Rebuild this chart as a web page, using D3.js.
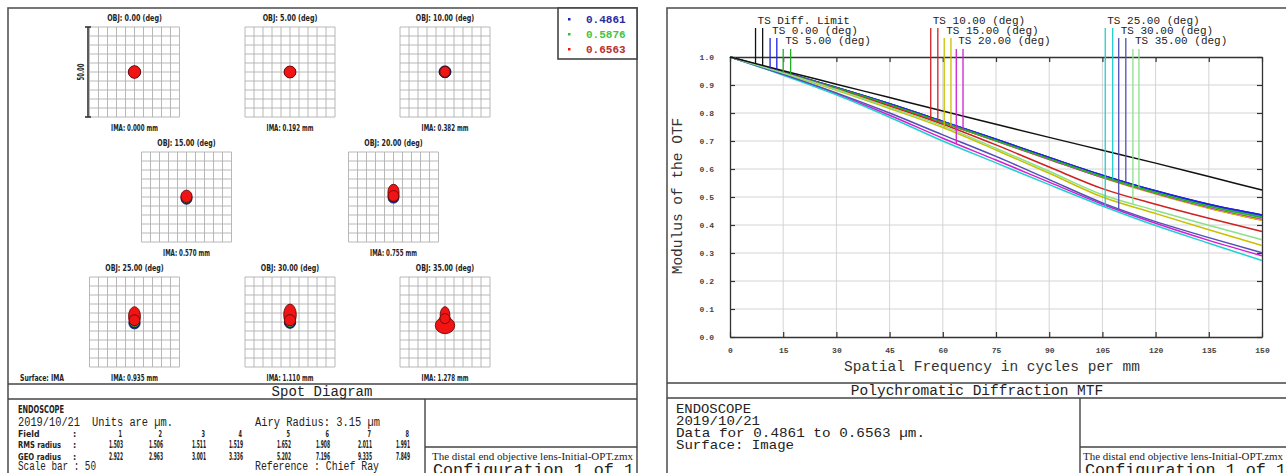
<!DOCTYPE html>
<html>
<head>
<meta charset="utf-8">
<title>Spot Diagram and MTF</title>
<script src="https://cdn.jsdelivr.net/npm/d3@7/dist/d3.min.js"></script>
<style>
  body { margin: 0; background: #fff; }
  svg { display: block; }
</style>
</head>
<body>
<svg id="svg"></svg>
<script>
var WIDTH = 1286, HEIGHT = 473;
var MONO = "'Liberation Mono','DejaVu Sans Mono',monospace";
var NARROW = "'Liberation Sans Narrow','DejaVu Sans Condensed','Liberation Sans',sans-serif";
var SERIF = "'Liberation Serif','DejaVu Serif',serif";

// ---------- data: spot diagram ----------
var fieldDeg = ["0.00", "5.00", "10.00", "15.00", "20.00", "25.00", "30.00", "35.00"];
var imaHeight = ["0.000", "0.192", "0.382", "0.570", "0.755", "0.935", "1.110", "1.278"];
var rmsRadius = ["1.503", "1.506", "1.511", "1.519", "1.652", "1.908", "2.011", "1.991"];
var geoRadius = ["2.922", "2.963", "3.001", "3.336", "5.202", "7.196", "9.335", "7.849"];
var wavelengths = ["0.4861", "0.5876", "0.6563"];
var scaleBar = 50; // µm
// spot blobs, µm from chief ray: [field, wave, dx, dy, rx, ry]
var spotBlobs = [
  [0,0,0,0,3.2,3.2],[0,1,0,0,3.2,3.2],[0,2,0,0,3.4,3.5],
  [1,0,0,0,3.1,3.1],[1,1,0,0,3.1,3.1],[1,2,0,0,3.3,3.3],
  [2,0,0,0.1,3.3,3.3],[2,1,0,0,3.1,3.1],[2,2,0,0.1,2.8,3.0],
  [3,0,0,-1.0,3.0,3.0],[3,1,0,-0.4,3.0,3.1],[3,2,0,0.4,3.1,3.4],
  [4,0,0,-0.4,3.0,3.0],[4,1,0,0.9,3.0,3.5],[4,2,0,2.7,3.1,4.4],[4,2,0,0.6,3.0,3.0],
  [5,0,0,-0.7,3.1,3.1],[5,1,0,0.1,2.9,3.1],[5,2,0,3.2,3.3,5.3],[5,2,0,1.0,3.0,3.0],
  [6,0,0,-0.4,3.1,3.1],[6,1,0,0.3,3.0,3.3],[6,2,0,4.0,3.5,6.0],[6,2,0,1.0,3.1,3.1],
  [7,0,0,1.2,2.9,2.9],[7,1,0,1.4,2.9,3.1],[7,2,0,-1.9,5.4,4.6],[7,2,0,3.9,2.7,4.6],[7,2,0,1.9,2.8,2.8]
];

// ---------- data: MTF ----------
var freq = [0, 15, 30, 45, 60, 75, 90, 105, 120, 135, 150];
var diffLimit = [1.000,0.951,0.903,0.855,0.807,0.760,0.713,0.667,0.621,0.573,0.525];
var mtfTan = [
  [1,0.946,0.891,0.833,0.770,0.706,0.641,0.578,0.522,0.474,0.436],
  [1,0.945,0.889,0.830,0.767,0.702,0.637,0.573,0.516,0.467,0.427],
  [1,0.944,0.886,0.825,0.760,0.686,0.607,0.530,0.474,0.424,0.377],
  [1,0.942,0.881,0.816,0.748,0.668,0.585,0.500,0.441,0.383,0.327],
  [1,0.937,0.869,0.792,0.710,0.632,0.553,0.474,0.406,0.345,0.290],
  [1,0.935,0.865,0.785,0.700,0.622,0.544,0.468,0.398,0.335,0.273],
  [1,0.938,0.872,0.800,0.722,0.645,0.562,0.479,0.412,0.355,0.301],
  [1,0.943,0.884,0.820,0.754,0.674,0.592,0.508,0.452,0.399,0.347]
];
var mtfSag = [
  [1,0.946,0.891,0.833,0.770,0.706,0.641,0.578,0.522,0.474,0.436],
  [1,0.945,0.890,0.831,0.768,0.704,0.639,0.575,0.518,0.469,0.430],
  [1,0.945,0.889,0.830,0.766,0.701,0.635,0.570,0.512,0.461,0.418],
  [1,0.945,0.889,0.829,0.765,0.700,0.634,0.569,0.511,0.460,0.417],
  [1,0.945,0.889,0.830,0.766,0.701,0.635,0.570,0.513,0.463,0.422],
  [1,0.946,0.890,0.832,0.769,0.705,0.640,0.576,0.520,0.471,0.432],
  [1,0.946,0.891,0.833,0.770,0.706,0.641,0.577,0.521,0.472,0.434],
  [1,0.945,0.890,0.831,0.768,0.703,0.638,0.573,0.516,0.466,0.425]
];
// where the T / S label leaders touch the curves (cycles/mm); first pair is the diff. limit
var markerFreq = [[7.2,9.2],[11.3,13.2],[15.0,17.1],[56.6,58.6],[60.4,62.3],[63.8,65.7],[105.8,107.9],[109.6,111.6],[113.6,115.3]];
var xTicks = [0,15,30,45,60,75,90,105,120,135,150];
var yTicks = [0,0.1,0.2,0.3,0.4,0.5,0.6,0.7,0.8,0.9,1.0];

// ---------- styles ----------
var waveColor = ["#1a2ab8", "#34c034", "#f01414"];
var waveText = ["#2a2aa0", "#44c444", "#b83030"];
var fieldColor = ["#2020e0", "#20b020", "#d02020", "#c8c000", "#d020d0", "#20d0d0", "#5050b8", "#8ce08c"];

var svg = d3.select('#svg').attr('width', WIDTH).attr('height', HEIGHT);

function line(x1, y1, x2, y2, col, w) {
  return svg.append('line').attr('x1', x1).attr('y1', y1).attr('x2', x2).attr('y2', y2)
    .attr('stroke', col || '#444').attr('stroke-width', w || 1.4);
}
function txt(x, y, s, opt) {
  opt = opt || {};
  var t = svg.append('text').attr('x', x).attr('y', y).text(s)
    .attr('font-family', opt.font || MONO)
    .attr('font-size', (opt.size || 12) + 'px')
    .attr('fill', opt.fill || '#222')
    .attr('text-anchor', opt.anchor || 'start');
  if (opt.bold) t.attr('font-weight', 'bold');
  if (opt.len) t.attr('textLength', opt.len).attr('lengthAdjust', 'spacingAndGlyphs');
  return t;
}

// ================= LEFT PANEL: spot diagram =================
svg.append('rect').attr('x', 8).attr('y', 8).attr('width', 629).attr('height', 490)
   .attr('fill', 'none').attr('stroke', '#555').attr('stroke-width', 1.6);
line(8, 384, 637, 384, '#444', 1.4);
line(8, 399, 637, 399, '#444', 1.4);
line(425, 399, 425, 480, '#444', 1.4);
line(425, 447, 637, 447, '#444', 1.4);

// legend
svg.append('rect').attr('x', 558).attr('y', 8).attr('width', 79).attr('height', 51)
   .attr('fill', '#fff').attr('stroke', '#444').attr('stroke-width', 1.6);
wavelengths.forEach(function(w, i) {
  svg.append('rect').attr('x', 568).attr('y', 18 + i * 15).attr('width', 2.5).attr('height', 2.5)
     .attr('fill', waveColor[i]);
  txt(586, 23 + i * 15, w, {size: 11, bold: true, fill: waveText[i]});
});

var GRID = 90;
var gridCenters = [[134.5,72],[290,72],[445,72],[186.5,197],[393.5,197],[134.5,322],[290,322],[445,322]];
var um = d3.scaleLinear().domain([-scaleBar / 2, scaleBar / 2]).range([-GRID / 2, GRID / 2]);
var cellTicks = d3.range(0, 11).map(function(k) { return -scaleBar / 2 + k * scaleBar / 10; });

gridCenters.forEach(function(c, f) {
  var g = svg.append('g').attr('transform', 'translate(' + c[0] + ',' + c[1] + ')');
  g.selectAll('line.v').data(cellTicks).enter().append('line')
    .attr('x1', function(d) { return um(d); }).attr('x2', function(d) { return um(d); })
    .attr('y1', -GRID / 2).attr('y2', GRID / 2)
    .attr('stroke', '#b0b0b0').attr('stroke-width', 0.9);
  g.selectAll('line.h').data(cellTicks).enter().append('line')
    .attr('y1', function(d) { return um(d); }).attr('y2', function(d) { return um(d); })
    .attr('x1', -GRID / 2).attr('x2', GRID / 2)
    .attr('stroke', '#b0b0b0').attr('stroke-width', 0.9);

  g.selectAll('ellipse').data(spotBlobs.filter(function(b) { return b[0] === f; }))
    .enter().append('ellipse')
    .attr('cx', function(b) { return um(b[2]); })
    .attr('cy', function(b) { return -um(b[3]); })
    .attr('rx', function(b) { return um(b[4]) - um(0); })
    .attr('ry', function(b) { return um(b[5]) - um(0); })
    .attr('fill', function(b) { return waveColor[b[1]]; })
    .attr('stroke', function(b) { return b[1] === 2 ? '#6a0a0a' : '#101050'; })
    .attr('stroke-width', 0.9);

  var lab = 'OBJ: ' + fieldDeg[f] + ' (deg)';
  txt(c[0], c[1] - GRID / 2 - 6, lab, {font: NARROW, size: 9, bold: true, anchor: 'middle', len: lab.length * 3.65});
  var ima = 'IMA: ' + imaHeight[f] + ' mm';
  txt(c[0], c[1] + GRID / 2 + 14, ima, {font: NARROW, size: 9, bold: true, anchor: 'middle', len: ima.length * 3.6});
});

// scale bar
var sbX = gridCenters[0][0] - GRID / 2 - 1.5;
line(sbX, gridCenters[0][1] + um(-scaleBar / 2), sbX, gridCenters[0][1] + um(scaleBar / 2), '#333', 1.6);
line(sbX - 3, gridCenters[0][1] - GRID / 2, sbX + 3, gridCenters[0][1] - GRID / 2, '#333', 1.6);
line(sbX - 3, gridCenters[0][1] + GRID / 2, sbX + 3, gridCenters[0][1] + GRID / 2, '#333', 1.6);
txt(0, 0, scaleBar.toFixed(2), {font: NARROW, size: 9, bold: true, anchor: 'middle', len: 17})
  .attr('transform', 'translate(' + (sbX - 4) + ',' + gridCenters[0][1] + ') rotate(-90)');

txt(20, 381, 'Surface: IMA', {font: NARROW, size: 9, bold: true, len: 44});
txt(322, 396, 'Spot Diagram', {size: 14, anchor: 'middle'});

// info box
txt(18, 413, 'ENDOSCOPE', {font: NARROW, size: 11, bold: true, len: 46});
txt(18, 426, '2019/10/21', {size: 12.5, len: 62});
txt(92, 426, 'Units are \u00b5m.', {size: 12.5, len: 81});
txt(255, 426, 'Airy Radius: 3.15 \u00b5m', {size: 12.5, len: 125});
var rowLabels = ['Field', 'RMS radius', 'GEO radius'];
var rowBase = [437, 448, 460];
rowLabels.forEach(function(s, r) {
  txt(18, rowBase[r], s, {font: NARROW, size: 9, bold: true, len: s.length * 4.3});
  txt(73, rowBase[r], ':', {font: NARROW, size: 9, bold: true});
});
txt(18, 470, 'Scale bar  : ' + scaleBar, {size: 12, len: 78});
txt(255, 470, 'Reference  : Chief Ray', {size: 12, len: 124});
var colX = [116, 156, 199, 236, 284, 323, 365, 403];
colX.forEach(function(x, i) {
  txt(x + 6, 437, String(i + 1), {font: NARROW, size: 9.5, bold: true, anchor: 'end', len: 3.5});
  txt(x, 448, rmsRadius[i], {font: NARROW, size: 11, bold: true, anchor: 'middle', len: 14});
  txt(x, 460, geoRadius[i], {font: NARROW, size: 11, bold: true, anchor: 'middle', len: 14});
});
txt(432, 460, 'The distal end objective lens-Initial-OPT.zmx', {font: SERIF, size: 11, len: 201});
txt(433, 475, 'Configuration 1 of 1', {size: 17, len: 201});

// ================= RIGHT PANEL: MTF =================
svg.append('rect').attr('x', 667).attr('y', 8).attr('width', 700).attr('height', 490)
   .attr('fill', 'none').attr('stroke', '#555').attr('stroke-width', 1.6);
line(667, 383, 1290, 383, '#444', 1.4);
line(667, 398, 1290, 398, '#444', 1.4);
line(1080, 398, 1080, 480, '#444', 1.4);
line(1080, 447, 1290, 447, '#444', 1.4);

var x = d3.scaleLinear().domain([0, 150]).range([730, 1262]);
var y = d3.scaleLinear().domain([0, 1]).range([337, 57]);

// grid
svg.append('g').selectAll('line').data(xTicks.slice(1, -1)).enter().append('line')
  .attr('x1', function(d) { return x(d); }).attr('x2', function(d) { return x(d); })
  .attr('y1', y(0)).attr('y2', y(1)).attr('stroke', '#d4d4d4').attr('stroke-width', 1);
svg.append('g').selectAll('line').data(yTicks.slice(1, -1)).enter().append('line')
  .attr('y1', function(d) { return y(d); }).attr('y2', function(d) { return y(d); })
  .attr('x1', x(0)).attr('x2', x(150)).attr('stroke', '#d4d4d4').attr('stroke-width', 1);

function styleAxis(g) {
  g.select('.domain').attr('stroke', '#333').attr('stroke-width', 1.3);
  g.selectAll('.tick line').attr('stroke', '#333').attr('stroke-width', 1.2);
  g.selectAll('.tick text').attr('font-family', MONO).attr('font-size', '8px')
    .attr('font-weight', 'bold').attr('fill', '#444');
}
svg.append('g').attr('transform', 'translate(0,' + y(0) + ')')
  .call(d3.axisBottom(x).tickValues(xTicks).tickSizeInner(-5).tickSizeOuter(0).tickPadding(10)
        .tickFormat(d3.format('d')))
  .call(styleAxis);
svg.append('g').attr('transform', 'translate(' + x(0) + ',0)')
  .call(d3.axisLeft(y).tickValues(yTicks).tickSizeInner(-5).tickSizeOuter(0).tickPadding(16)
        .tickFormat(d3.format('.1f')))
  .call(styleAxis);
svg.append('g').attr('transform', 'translate(0,' + y(1) + ')')
  .call(d3.axisTop(x).tickValues(xTicks).tickSizeInner(-5).tickSizeOuter(0).tickFormat(''))
  .call(styleAxis);
svg.append('g').attr('transform', 'translate(' + x(150) + ',0)')
  .call(d3.axisRight(y).tickValues(yTicks).tickSizeInner(-5).tickSizeOuter(0).tickFormat(''))
  .call(styleAxis);

// curves
var curve = d3.line().x(function(d, i) { return x(freq[i]); }).y(function(d) { return y(d); })
  .curve(d3.curveMonotoneX);
var series = [];
mtfSag.forEach(function(s, i) { series.push({v: s, c: fieldColor[i]}); });
mtfTan.forEach(function(s, i) { series.push({v: s, c: fieldColor[i]}); });
series.push({v: diffLimit, c: '#111'});
svg.append('g').selectAll('path').data(series).enter().append('path')
  .attr('d', function(d) { return curve(d.v); })
  .attr('fill', 'none').attr('stroke', function(d) { return d.c; }).attr('stroke-width', 1.5);

// labels with leader lines
function valueAt(arr, f) {
  return d3.scaleLinear().domain(freq).range(arr)(f);
}
var labelNames = ['TS Diff. Limit'].concat(fieldDeg.map(function(d) { return 'TS ' + d + ' (deg)'; }));
var labelBase = [24, 34, 44];
var leaderTop = [28, 38, 49];
markerFreq.forEach(function(mf, k) {
  var row = k % 3;
  var col = k === 0 ? '#111' : fieldColor[k - 1];
  var tv = k === 0 ? diffLimit : mtfTan[k - 1];
  var sv = k === 0 ? diffLimit : mtfSag[k - 1];
  line(x(mf[0]), leaderTop[row], x(mf[0]), y(valueAt(tv, mf[0])), col, 1.3);
  line(x(mf[1]), leaderTop[row], x(mf[1]), y(valueAt(sv, mf[1])), col, 1.3);
  txt(x(mf[0]) + 2, labelBase[row], labelNames[k], {size: 11, fill: '#222', len: labelNames[k].length * 6.6});
});

txt(992, 371, 'Spatial Frequency in cycles per mm', {size: 14.5, anchor: 'middle', fill: '#333'});
txt(0, 0, 'Modulus of the OTF', {size: 14.5, anchor: 'middle', fill: '#333'})
  .attr('transform', 'translate(682,196) rotate(-90)');
txt(977, 395, 'Polychromatic Diffraction MTF', {size: 14.5, anchor: 'middle'});

txt(676, 413, 'ENDOSCOPE', {size: 13.5, len: 75});
txt(676, 425, '2019/10/21', {size: 13.5, len: 84});
txt(676, 437, 'Data for 0.4861 to 0.6563 \u00b5m.', {size: 13.5, len: 249});
txt(676, 449, 'Surface: Image', {size: 13.5, len: 118});
txt(1083, 460, 'The distal end objective lens-Initial-OPT.zmx', {font: SERIF, size: 11, len: 200});
txt(1085, 475, 'Configuration 1 of 1', {size: 17, len: 201});
</script>
</body>
</html>
